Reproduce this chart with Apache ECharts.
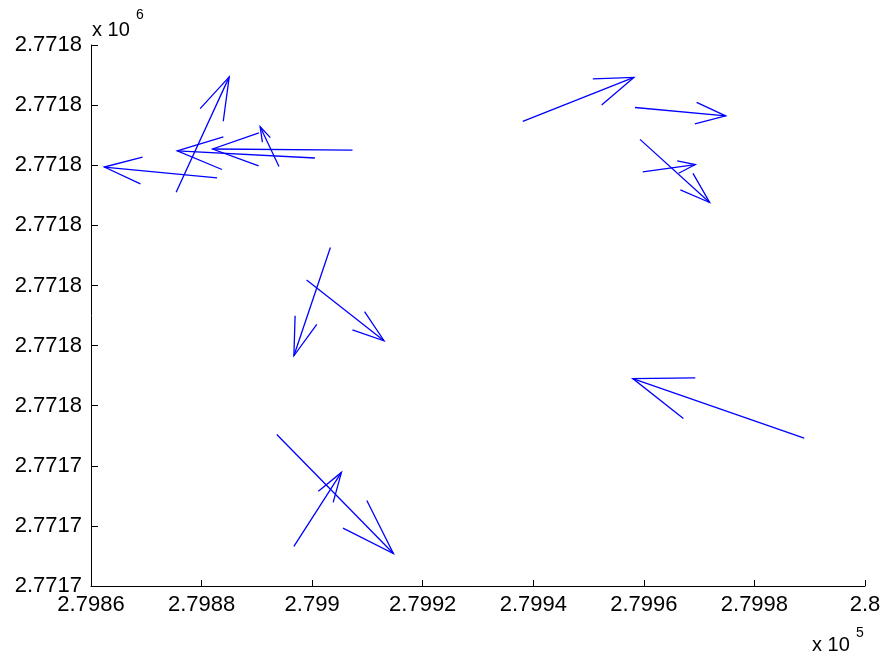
<!DOCTYPE html>
<html>
<head>
<meta charset="utf-8">
<script src="https://cdn.jsdelivr.net/npm/echarts@6/dist/echarts.min.js"></script>
<style>html,body{margin:0;padding:0;background:#fff;}#chart{width:885px;height:659px;}</style>
</head>
<body>
<div id="chart"></div>
<script>
// Arrow bases (data units) and displacement vectors (u, v)
const baseX = [279882.8, 279875.4, 279900.5, 279907.3, 279894.0, 279938.1, 279958.4, 279959.3, 279959.8, 279903.3, 279899.0, 279989.0, 279893.6, 279896.7];
const baseY = [2771787.9, 2771785.5, 2771791.2, 2771792.5, 2771789.8, 2771797.3, 2771799.6, 2771794.3, 2771788.9, 2771776.3, 2771770.9, 2771744.6, 2771745.2, 2771726.6];
const vecU  = [-20.4, 9.6, -24.9, -25.3, -3.4, 20.1, 16.4, 12.6, 9.5, -6.6, 14.0, -31.0, 21.1, 8.6];
const vecV  = [1.8, 19.2, 1.2, 0.2, 6.6, 7.3, -1.4, -10.5, 1.2, -18.0, -10.1, 9.9, -19.8, 12.3];

const xTickLabels = ['2.7986','2.7988','2.799','2.7992','2.7994','2.7996','2.7998','2.8'];
const yTickLabels = ['2.7717','2.7717','2.7717','2.7718','2.7718','2.7718','2.7718','2.7718','2.7718','2.7718'];

const xMin = 279860, xMax = 280000, xStep = 20;
const yMin = 2771720, yMax = 2771810, yStep = 10;

const data = baseX.map((x, i) => [x, baseY[i], vecU[i], vecV[i]]);

const ALPHA = 0.33, BETA = 0.33;
const FONT = 'Liberation Sans, Arial, Helvetica, sans-serif';

const chart = echarts.init(document.getElementById('chart'), null, {renderer: 'canvas'});
chart.setOption({
  animation: false,
  backgroundColor: '#fff',
  grid: {left: 91, right: 20, top: 45, bottom: 73, containLabel: false},
  xAxis: {
    type: 'value', min: xMin, max: xMax, interval: xStep,
    axisLine: {show: true, lineStyle: {color: '#000', width: 1}},
    axisTick: {show: true, inside: true, length: 6, lineStyle: {color: '#000'}},
    splitLine: {show: false},
    axisLabel: {
      color: '#000', fontSize: 22, fontFamily: FONT, margin: 8,
      formatter: v => xTickLabels[Math.round((v - xMin) / xStep)]
    }
  },
  yAxis: {
    type: 'value', min: yMin, max: yMax, interval: yStep,
    axisLine: {show: true, lineStyle: {color: '#000', width: 1}},
    axisTick: {show: true, inside: true, length: 7, lineStyle: {color: '#000'}},
    splitLine: {show: false},
    axisLabel: {
      color: '#000', fontSize: 22, fontFamily: FONT, margin: 9,
      formatter: v => yTickLabels[Math.round((v - yMin) / yStep)]
    }
  },
  graphic: [
    {type: 'text', left: 92, top: 20, style: {text: 'x 10', fontSize: 20, fontFamily: FONT, fill: '#000'}},
    {type: 'text', left: 136, top: 8, style: {text: '6', fontSize: 14, fontFamily: FONT, fill: '#000'}},
    {type: 'text', left: 812, top: 635, style: {text: 'x 10', fontSize: 20, fontFamily: FONT, fill: '#000'}},
    {type: 'text', left: 856, top: 626, style: {text: '5', fontSize: 14, fontFamily: FONT, fill: '#000'}}
  ],
  series: [{
    type: 'custom',
    data: data,
    encode: {x: 0, y: 1},
    clip: false,
    renderItem: function (params, api) {
      const x = api.value(0), y = api.value(1), u = api.value(2), v = api.value(3);
      const tx = x + u, ty = y + v;
      const h1 = [tx - ALPHA * (u + BETA * v), ty - ALPHA * (v - BETA * u)];
      const h2 = [tx - ALPHA * (u - BETA * v), ty - ALPHA * (v + BETA * u)];
      const style = {stroke: '#0000ff', lineWidth: 1.3, fill: null};
      return {
        type: 'group',
        children: [
          {type: 'polyline', shape: {points: [api.coord([x, y]), api.coord([tx, ty])]}, style: style},
          {type: 'polyline', shape: {points: [api.coord(h1), api.coord([tx, ty]), api.coord(h2)]}, style: style}
        ]
      };
    }
  }]
});
</script>
</body>
</html>
